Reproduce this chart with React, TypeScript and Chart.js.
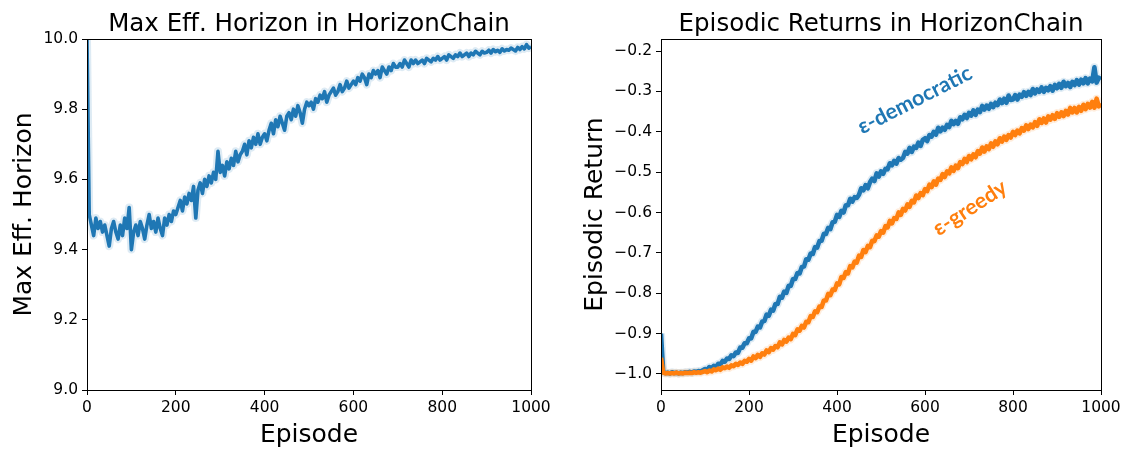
import React, { useEffect, useRef } from "react";
import { Chart, registerables } from "chart.js";

Chart.register(...registerables);

// Episode spacing between recorded points
const STEP = 5;

// Max effective horizon per episode (every 5 episodes, 0..1000)
const maxEffHorizon = [
  10.0, 9.50, 9.47, 9.44, 9.49, 9.46, 9.48, 9.45, 9.47, 9.44,
  9.41, 9.46, 9.48, 9.45, 9.43, 9.47, 9.44, 9.49, 9.46, 9.52,
  9.40, 9.45, 9.47, 9.44, 9.48, 9.46, 9.43, 9.47, 9.50, 9.46,
  9.48, 9.45, 9.49, 9.46, 9.44, 9.49, 9.47, 9.50, 9.48, 9.51,
  9.50, 9.52, 9.54, 9.51, 9.55, 9.53, 9.56, 9.54, 9.58, 9.49,
  9.57, 9.59, 9.56, 9.60, 9.58, 9.61, 9.59, 9.62, 9.60, 9.68,
  9.62, 9.64, 9.61, 9.65, 9.63, 9.66, 9.64, 9.68, 9.65, 9.67,
  9.68, 9.70, 9.67, 9.71, 9.69, 9.72, 9.70, 9.73, 9.70, 9.72,
  9.73, 9.71, 9.74, 9.76, 9.73, 9.77, 9.75, 9.78, 9.76, 9.74,
  9.78, 9.79, 9.77, 9.80, 9.78, 9.81, 9.79, 9.76, 9.80, 9.82,
  9.81, 9.82, 9.80, 9.83, 9.82, 9.84, 9.83, 9.85, 9.82, 9.84,
  9.85, 9.86, 9.84, 9.85, 9.87, 9.85, 9.86, 9.88, 9.86, 9.87,
  9.88, 9.87, 9.89, 9.88, 9.90, 9.89, 9.87, 9.90, 9.89, 9.91,
  9.90, 9.91, 9.89, 9.92, 9.91, 9.90, 9.92, 9.91, 9.93, 9.92,
  9.92, 9.93, 9.92, 9.94, 9.93, 9.92, 9.94, 9.93, 9.94, 9.93,
  9.935, 9.94, 9.93, 9.945, 9.94, 9.935, 9.945, 9.94, 9.95, 9.94,
  9.945, 9.95, 9.94, 9.955, 9.95, 9.945, 9.955, 9.95, 9.96, 9.95,
  9.955, 9.96, 9.95, 9.96, 9.955, 9.965, 9.96, 9.955, 9.965, 9.96,
  9.962, 9.968, 9.96, 9.97, 9.964, 9.968, 9.962, 9.972, 9.966, 9.97,
  9.968, 9.974, 9.97, 9.966, 9.976, 9.97, 9.978, 9.972, 9.984, 9.974,
  9.978,
];

// Episodic return, ε-democratic exploration
const returnsDemocratic = [
  -0.900, -0.996, -0.998, -0.997, -0.999, -0.996, -0.998, -0.997, -0.999, -0.997,
  -0.998, -0.996, -0.997, -0.995, -0.997, -0.994, -0.995, -0.993, -0.994, -0.991,
  -0.988, -0.990, -0.983, -0.986, -0.980, -0.983, -0.975, -0.976, -0.968, -0.970,
  -0.962, -0.963, -0.954, -0.956, -0.947, -0.948, -0.935, -0.935, -0.924, -0.924,
  -0.912, -0.912, -0.896, -0.896, -0.883, -0.885, -0.870, -0.869, -0.853, -0.856,
  -0.841, -0.843, -0.827, -0.827, -0.809, -0.811, -0.796, -0.799, -0.782, -0.782,
  -0.765, -0.765, -0.750, -0.751, -0.735, -0.734, -0.716, -0.717, -0.702, -0.703,
  -0.686, -0.687, -0.671, -0.670, -0.653, -0.653, -0.638, -0.641, -0.624, -0.623,
  -0.606, -0.611, -0.596, -0.600, -0.582, -0.582, -0.566, -0.573, -0.562, -0.564,
  -0.556, -0.540, -0.545, -0.532, -0.540, -0.525, -0.516, -0.522, -0.503, -0.511,
  -0.498, -0.504, -0.492, -0.493, -0.478, -0.483, -0.472, -0.479, -0.465, -0.469,
  -0.465, -0.450, -0.454, -0.440, -0.450, -0.437, -0.440, -0.427, -0.435, -0.420,
  -0.416, -0.423, -0.408, -0.412, -0.400, -0.407, -0.390, -0.399, -0.390, -0.395,
  -0.383, -0.388, -0.373, -0.381, -0.373, -0.380, -0.364, -0.369, -0.358, -0.366,
  -0.353, -0.360, -0.347, -0.358, -0.345, -0.351, -0.336, -0.345, -0.335, -0.343,
  -0.331, -0.339, -0.328, -0.334, -0.320, -0.329, -0.318, -0.328, -0.310, -0.321,
  -0.320, -0.309, -0.320, -0.308, -0.313, -0.302, -0.311, -0.301, -0.309, -0.294,
  -0.305, -0.295, -0.301, -0.290, -0.301, -0.291, -0.297, -0.287, -0.298, -0.284,
  -0.292, -0.281, -0.291, -0.276, -0.287, -0.279, -0.289, -0.276, -0.284, -0.272,
  -0.283, -0.271, -0.280, -0.267, -0.280, -0.268, -0.275, -0.240, -0.278, -0.266,
  -0.270,
];

// Episodic return, ε-greedy exploration
const returnsGreedy = [
  -0.960, -0.997, -0.999, -0.998, -0.999, -0.998, -0.999, -0.997, -0.999, -0.998,
  -0.999, -0.997, -0.998, -0.997, -0.998, -0.996, -0.997, -0.996, -0.997, -0.995,
  -0.993, -0.996, -0.992, -0.994, -0.989, -0.991, -0.987, -0.990, -0.984, -0.986,
  -0.982, -0.985, -0.979, -0.981, -0.975, -0.978, -0.972, -0.975, -0.968, -0.970,
  -0.963, -0.967, -0.957, -0.961, -0.953, -0.958, -0.949, -0.952, -0.942, -0.946,
  -0.936, -0.940, -0.931, -0.934, -0.922, -0.927, -0.916, -0.920, -0.910, -0.914,
  -0.901, -0.904, -0.890, -0.893, -0.881, -0.885, -0.871, -0.872, -0.857, -0.859,
  -0.845, -0.847, -0.833, -0.834, -0.818, -0.818, -0.802, -0.805, -0.791, -0.792,
  -0.776, -0.778, -0.760, -0.762, -0.748, -0.751, -0.733, -0.736, -0.722, -0.724,
  -0.707, -0.710, -0.693, -0.698, -0.683, -0.686, -0.670, -0.671, -0.657, -0.660,
  -0.646, -0.650, -0.634, -0.637, -0.621, -0.627, -0.614, -0.616, -0.600, -0.606,
  -0.591, -0.595, -0.580, -0.586, -0.571, -0.575, -0.558, -0.564, -0.552, -0.557,
  -0.542, -0.547, -0.531, -0.537, -0.523, -0.531, -0.516, -0.519, -0.505, -0.512,
  -0.498, -0.503, -0.488, -0.497, -0.484, -0.490, -0.475, -0.480, -0.467, -0.475,
  -0.460, -0.468, -0.456, -0.463, -0.448, -0.454, -0.439, -0.449, -0.436, -0.443,
  -0.429, -0.437, -0.424, -0.431, -0.416, -0.424, -0.412, -0.420, -0.408, -0.414,
  -0.400, -0.408, -0.397, -0.404, -0.391, -0.397, -0.384, -0.393, -0.382, -0.389,
  -0.376, -0.385, -0.369, -0.378, -0.367, -0.377, -0.362, -0.370, -0.359, -0.368,
  -0.354, -0.363, -0.352, -0.361, -0.348, -0.357, -0.341, -0.352, -0.341, -0.352,
  -0.338, -0.348, -0.333, -0.344, -0.331, -0.340, -0.326, -0.340, -0.318, -0.337,
  -0.330,
];

const episodeTicks = [0, 200, 400, 600, 800, 1000];
const horizonTicks = [9.0, 9.2, 9.4, 9.6, 9.8, 10.0];
const returnTicks = [-1.0, -0.9, -0.8, -0.7, -0.6, -0.5, -0.4, -0.3, -0.2];

const BLUE = "#1f77b4";
const ORANGE = "#ff7f0e";
const BLUE_HALO = "rgba(31,119,180,0.15)";
const ORANGE_HALO = "rgba(255,127,14,0.15)";
const FONT = '"DejaVu Sans", sans-serif';

const toPoints = (values: number[]) =>
  values.map((y, i) => ({ x: i * STEP, y }));

const fmt = (v: number) => v.toFixed(1).replace("-", "\u2212");

// Draws the full axes frame, title, axis labels and inline series labels
const framePlugin = {
  id: "frame",
  afterDraw(chart: any, _args: any, opts: any) {
    const { ctx, chartArea: a } = chart;
    const align = (p: number) => Math.round(p - 0.5) + 0.5;
    ctx.save();
    ctx.strokeStyle = "#000";
    ctx.lineWidth = 1;
    ctx.strokeRect(align(a.left), align(a.top), align(a.right) - align(a.left), align(a.bottom) - align(a.top));

    const cx = (a.left + a.right) / 2;
    const cy = (a.top + a.bottom) / 2;
    ctx.fillStyle = "#000";
    ctx.textAlign = "center";
    ctx.textBaseline = "alphabetic";

    ctx.font = `24.5px ${FONT}`;
    ctx.fillText(opts.title, cx, a.top - 8.5);

    ctx.font = `25px ${FONT}`;
    ctx.fillText(opts.xLabel, cx, a.bottom + 52);

    ctx.save();
    ctx.translate(a.left - opts.yLabelOffset, cy);
    ctx.rotate(-Math.PI / 2);
    ctx.fillText(opts.yLabel, 0, 0);
    ctx.restore();

    for (const n of opts.notes || []) {
      const px = chart.scales.x.getPixelForValue(n.episode);
      const py = chart.scales.y.getPixelForValue(n.value);
      ctx.save();
      ctx.translate(px, py);
      ctx.rotate((n.angle * Math.PI) / 180);
      ctx.font = `bold 21.5px Lato, "Open Sans", sans-serif`;
      ctx.fillStyle = n.color;
      ctx.textBaseline = "middle";
      ctx.fillText(n.text, 0, 0);
      ctx.restore();
    }
    ctx.restore();
  },
};

function axisStyle(ticks: number[], format: (v: number) => string) {
  return {
    afterBuildTicks: (s: any) => {
      s.ticks = ticks.map((value) => ({ value }));
    },
    grid: {
      display: true,
      drawOnChartArea: false,
      drawTicks: true,
      tickLength: 5,
      color: "#000",
      lineWidth: 1,
    },
    border: { display: true, color: "#000", width: 1 },
    ticks: {
      autoSkip: false,
      maxRotation: 0,
      padding: 4,
      color: "#000",
      font: { family: FONT, size: 15.5 },
      callback: (v: any) => format(Number(v)),
    },
  };
}

function makeConfig(p: {
  datasets: any[];
  yMin: number;
  yMax: number;
  yTicks: number[];
  yFormat: (v: number) => string;
  left: number;
  right: number;
  frame: any;
}) {
  return {
    type: "line",
    data: { datasets: p.datasets },
    options: {
      animation: false,
      responsive: false,
      maintainAspectRatio: false,
      events: [],
      layout: { padding: { left: 0, top: 39, right: p.right, bottom: 0 } },
      elements: { point: { radius: 0 }, line: { tension: 0 } },
      plugins: {
        legend: { display: false },
        tooltip: { enabled: false },
        frame: p.frame,
      },
      scales: {
        x: {
          type: "linear",
          min: 0,
          max: 1000,
          afterFit: (s: any) => {
            s.height = 59;
          },
          ...axisStyle(episodeTicks, (v) => String(v)),
        },
        y: {
          type: "linear",
          min: p.yMin,
          max: p.yMax,
          afterFit: (s: any) => {
            s.width = p.left;
          },
          ...axisStyle(p.yTicks, p.yFormat),
        },
      },
    },
    plugins: [framePlugin],
  } as any;
}

function line(values: number[], color: string, width: number, order: number) {
  return {
    data: toPoints(values),
    borderColor: color,
    borderWidth: width,
    borderJoinStyle: "round",
    pointRadius: 0,
    fill: false,
    order,
  };
}

export default function App() {
  const leftRef = useRef<HTMLCanvasElement>(null);
  const rightRef = useRef<HTMLCanvasElement>(null);

  useEffect(() => {
    const left = new Chart(
      leftRef.current as HTMLCanvasElement,
      makeConfig({
        datasets: [
          line(maxEffHorizon, BLUE, 3.6, 0),
          line(maxEffHorizon, BLUE_HALO, 8, 1),
        ],
        yMin: 9.0,
        yMax: 10.0,
        yTicks: horizonTicks,
        yFormat: (v) => v.toFixed(1),
        left: 87,
        right: 29,
        frame: {
          title: "Max Eff. Horizon in HorizonChain",
          xLabel: "Episode",
          yLabel: "Max Eff. Horizon",
          yLabelOffset: 56,
          notes: [],
        },
      })
    );

    const right = new Chart(
      rightRef.current as HTMLCanvasElement,
      makeConfig({
        datasets: [
          line(returnsGreedy, ORANGE, 4.6, 0),
          line(returnsDemocratic, BLUE, 4.6, 1),
          line(returnsGreedy, ORANGE_HALO, 8, 2),
          line(returnsDemocratic, BLUE_HALO, 8, 3),
        ],
        yMin: -1.04,
        yMax: -0.17,
        yTicks: returnTicks,
        yFormat: fmt,
        left: 101,
        right: 24,
        frame: {
          title: "Episodic Returns in HorizonChain",
          xLabel: "Episode",
          yLabel: "Episodic Return",
          yLabelOffset: 59,
          notes: [
            { text: "\u03b5-democratic", color: BLUE, episode: 577, value: -0.321, angle: -27 },
            { text: "\u03b5-greedy", color: ORANGE, episode: 702, value: -0.589, angle: -33 },
          ],
        },
      })
    );

    return () => {
      left.destroy();
      right.destroy();
    };
  }, []);

  return (
    <div style={{ position: "absolute", left: 0, top: 0, width: 1125, height: 449, background: "#fff" }}>
      <canvas
        ref={leftRef}
        width={560}
        height={449}
        style={{ position: "absolute", left: 0, top: 0, width: 560, height: 449 }}
      />
      <canvas
        ref={rightRef}
        width={565}
        height={449}
        style={{ position: "absolute", left: 560, top: 0, width: 565, height: 449 }}
      />
    </div>
  );
}
